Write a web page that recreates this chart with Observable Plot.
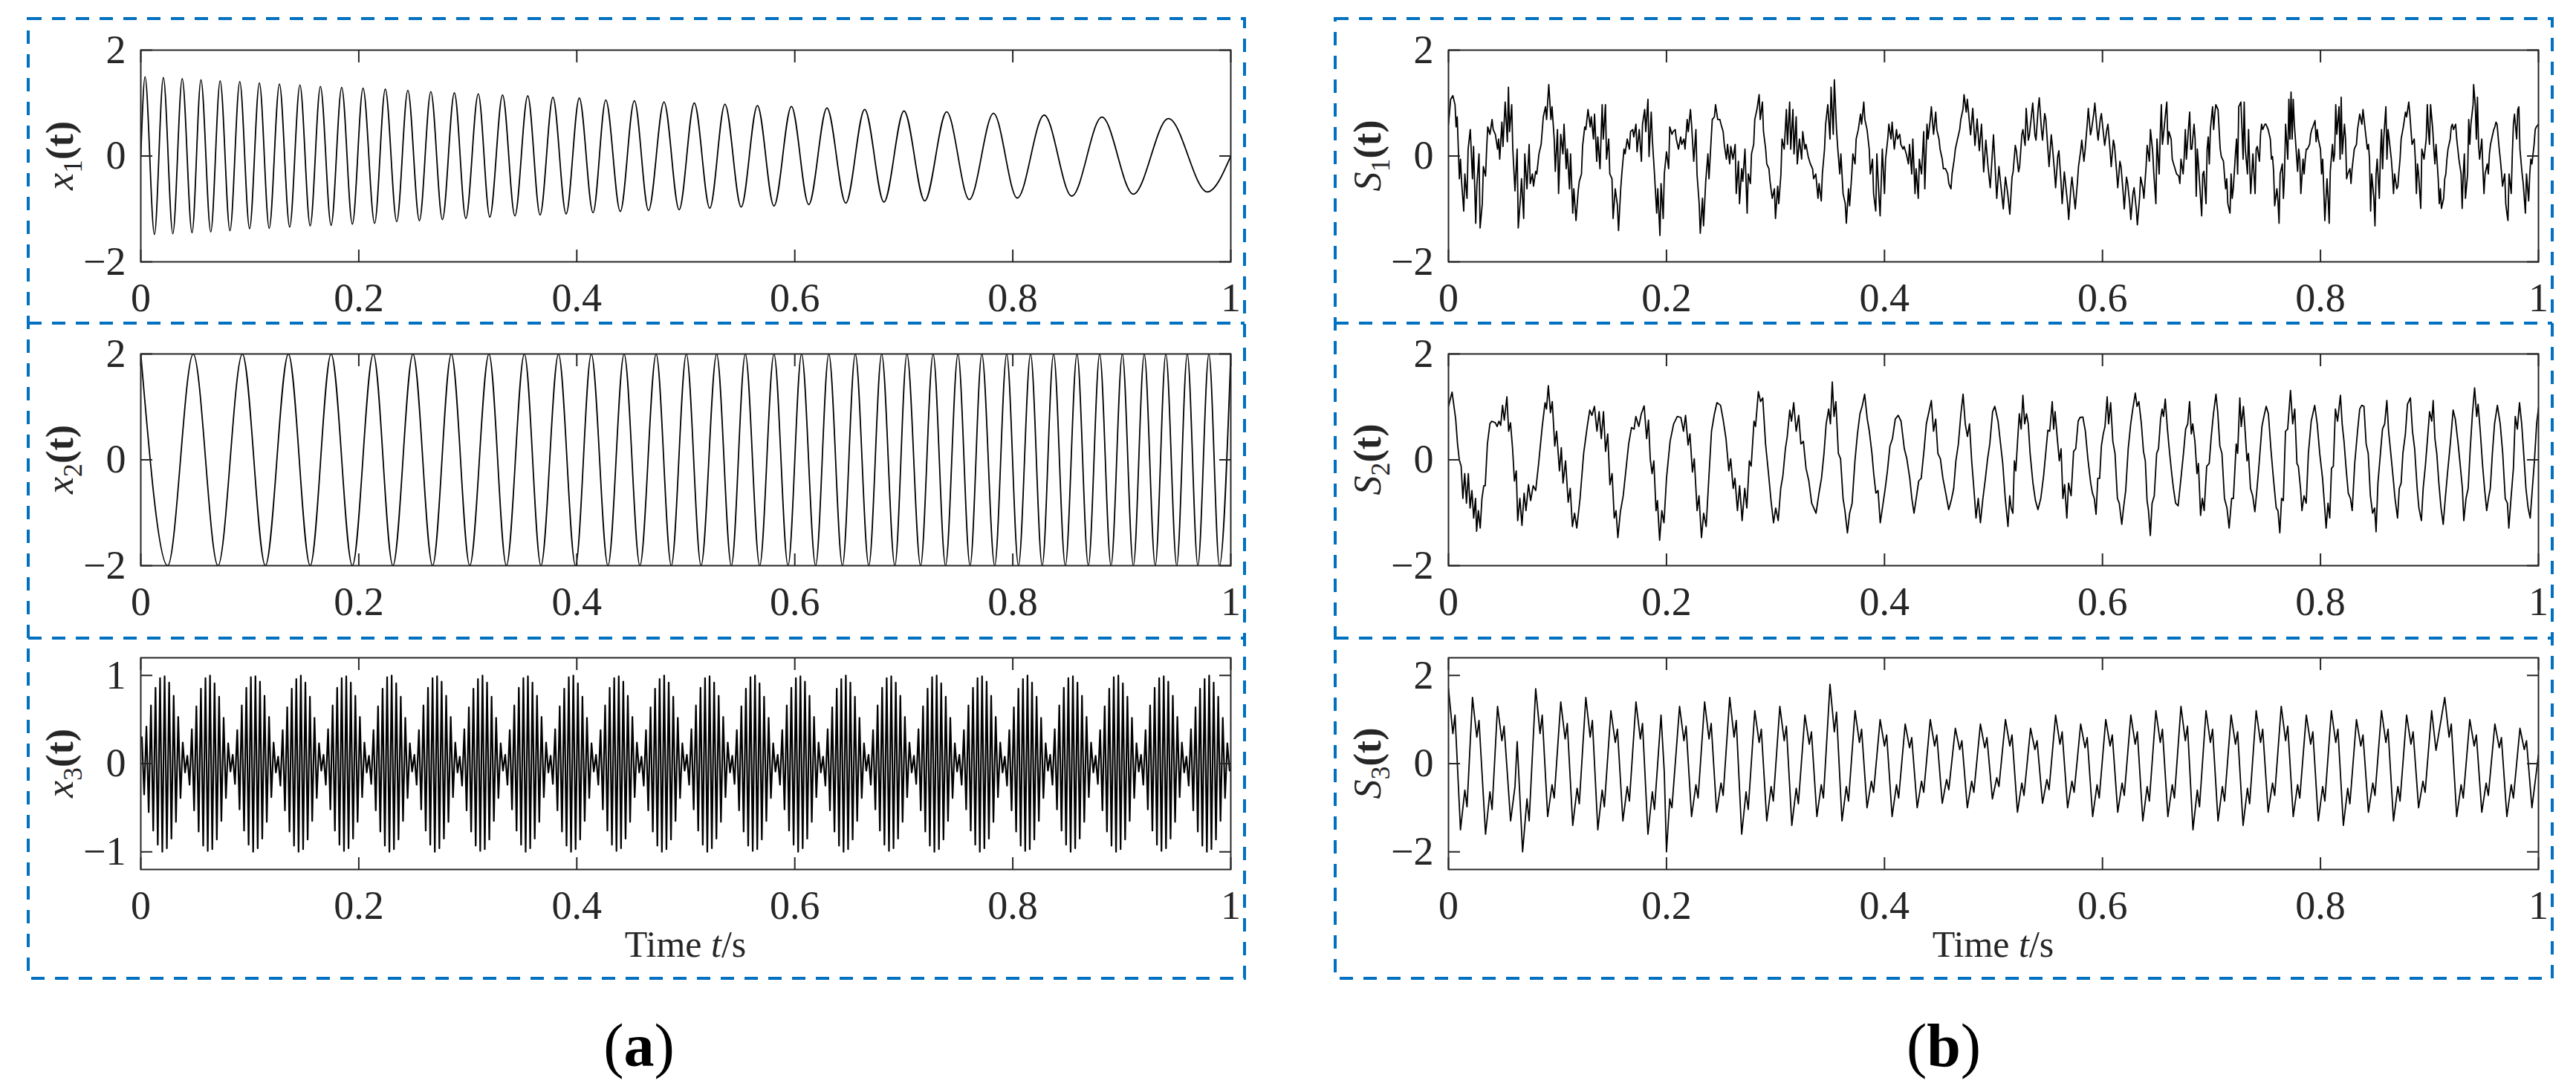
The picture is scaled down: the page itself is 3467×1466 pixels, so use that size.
<!DOCTYPE html>
<html><head><meta charset="utf-8">
<script src="https://cdn.jsdelivr.net/npm/d3@7"></script>
<script src="https://cdn.jsdelivr.net/npm/@observablehq/plot@0.6"></script>
<style>
html,body{margin:0;padding:0;background:#fff;}
#fig{position:relative;width:3467px;height:1466px;overflow:hidden;background:#fff;font-family:"Liberation Serif","Times New Roman",serif;}
#fig svg{position:absolute;}
</style></head>
<body><div id="fig"></div>
<script>
// ---------- tick labels ----------
const timeTicks = [0, 0.2, 0.4, 0.6, 0.8, 1];
const ticksTwo = [-2, 0, 2];
const ticksOne = [-1, 0, 1];

// ---------- x1(t): extrema of the decaying down-chirp ----------
const x1T = [0,0.0039,0.0125,0.0207,0.0294,0.0380,0.0470,0.0552,0.0642,0.0728,0.0818,0.0908,0.0998,0.1088,0.1178,0.1272,0.1366,0.1460,0.1554,0.1648,0.1746,0.1843,0.1941,0.2039,0.2145,0.2243,0.2348,0.2450,0.2556,0.2661,0.2767,0.2877,0.2982,0.3096,0.3202,0.3319,0.3432,0.3550,0.3663,0.3781,0.3902,0.4023,0.4149,0.4266,0.4399,0.4528,0.4658,0.4800,0.4939,0.5078,0.5220,0.5359,0.5508,0.5657,0.5809,0.5969,0.6128,0.6295,0.6468,0.6641,0.6818,0.7002,0.7192,0.7393,0.7601,0.7823,0.8041,0.8288,0.8541,0.8818,0.9106,0.9428,0.9785,1];
const x1V = [0,1.497,-1.483,1.483,-1.469,1.460,-1.450,1.441,-1.436,1.418,-1.413,1.404,-1.375,1.380,-1.366,1.361,-1.343,1.343,-1.319,1.315,-1.310,1.296,-1.287,1.282,-1.273,1.263,-1.240,1.240,-1.221,1.216,-1.202,1.193,-1.179,1.174,-1.155,1.151,-1.132,1.137,-1.113,1.109,-1.095,1.095,-1.071,1.057,-1.048,1.043,-1.029,1.020,-1.015,1.000,-0.987,0.978,-0.964,0.954,-0.945,0.936,-0.917,0.908,-0.889,0.880,-0.870,0.851,-0.847,0.833,-0.823,0.805,-0.795,0.772,-0.758,0.734,-0.720,0.706,-0.678,0];

// ---------- x2(t): extrema of the up-chirp ----------
const x2T = [0,0.0247,0.0481,0.0708,0.0932,0.1143,0.1354,0.1554,0.1746,0.1941,0.2133,0.2313,0.2497,0.2677,0.2849,0.3018,0.3194,0.3354,0.3519,0.3671,0.3832,0.3988,0.4133,0.4286,0.4434,0.4579,0.4728,0.4867,0.5005,0.5140,0.5283,0.5418,0.5546,0.5678,0.5809,0.5938,0.6062,0.6191,0.6312,0.6437,0.6555,0.6679,0.6797,0.6918,0.7029,0.7154,0.7269,0.7383,0.7497,0.7608,0.7716,0.7834,0.7944,0.8052,0.8163,0.8270,0.8374,0.8482,0.8589,0.8693,0.8797,0.8901,0.9005,0.9106,0.9206,0.9307,0.9404,0.9504,0.9601,0.9698,0.9799,0.9896,1];
const x2V = [2,-2,2,-2,2,-2,2,-2,2,-2,2,-2,2,-2,2,-2,2,-2,2,-2,2,-2,2,-2,2,-2,2,-2,2,-2,2,-2,2,-2,2,-2,2,-2,2,-2,2,-2,2,-2,2,-2,2,-2,2,-2,2,-2,2,-2,2,-2,2,-2,2,-2,2,-2,2,-2,2,-2,2,-2,2,-2,2,-2,2];

// ---------- x3(t): carrier extrema, one row per beat ----------
const x3Start = 0.001;
const x3Step = 0.0020833;
const x3Beats = [
 [0.30,-0.35,0.42,-0.55,0.66,-0.76,0.86,-0.92,0.97,-1.00,0.99,-0.96,0.92,-0.85,0.77,-0.66,0.53,-0.39,0.24,-0.10],
 [0.09,-0.24,0.39,-0.53,0.65,-0.77,0.85,-0.93,0.97,-0.99,1.00,-0.97,0.91,-0.86,0.76,-0.65,0.52,-0.39,0.23,-0.09],
 [0.10,-0.23,0.38,-0.52,0.66,-0.76,0.86,-0.92,0.98,-1.00,0.99,-0.96,0.93,-0.85,0.77,-0.66,0.53,-0.38,0.24,-0.10],
 [0.08,-0.25,0.38,-0.53,0.64,-0.77,0.85,-0.93,0.96,-1.00,1.00,-0.97,0.92,-0.86,0.76,-0.65,0.52,-0.39,0.23,-0.08],
 [0.10,-0.24,0.39,-0.52,0.66,-0.76,0.86,-0.92,0.97,-0.99,0.99,-0.96,0.92,-0.85,0.77,-0.66,0.53,-0.38,0.24,-0.10],
 [0.09,-0.23,0.38,-0.53,0.65,-0.77,0.85,-0.93,0.98,-1.00,1.00,-0.97,0.91,-0.86,0.76,-0.65,0.52,-0.39,0.23,-0.09],
 [0.10,-0.24,0.38,-0.52,0.66,-0.76,0.86,-0.92,0.97,-1.00,0.99,-0.96,0.93,-0.85,0.77,-0.66,0.53,-0.38,0.24,-0.10],
 [0.08,-0.25,0.39,-0.53,0.64,-0.77,0.85,-0.93,0.96,-0.99,1.00,-0.97,0.92,-0.86,0.76,-0.65,0.52,-0.39,0.23,-0.08],
 [0.10,-0.24,0.38,-0.52,0.66,-0.76,0.86,-0.92,0.97,-1.00,0.99,-0.96,0.92,-0.85,0.77,-0.66,0.53,-0.38,0.24,-0.10],
 [0.09,-0.23,0.39,-0.53,0.65,-0.77,0.85,-0.93,0.98,-1.00,1.00,-0.97,0.91,-0.86,0.76,-0.65,0.52,-0.39,0.23,-0.09],
 [0.10,-0.24,0.38,-0.52,0.66,-0.76,0.86,-0.92,0.97,-0.99,0.99,-0.96,0.93,-0.85,0.77,-0.66,0.53,-0.38,0.24,-0.10],
 [0.08,-0.25,0.38,-0.53,0.64,-0.77,0.85,-0.93,0.96,-1.00,1.00,-0.97,0.92,-0.86,0.76,-0.65,0.52,-0.39,0.23,-0.08],
 [0.10,-0.24,0.39,-0.52,0.66,-0.76,0.86,-0.92,0.97,-1.00,0.99,-0.96,0.92,-0.85,0.77,-0.66,0.53,-0.38,0.24,-0.10],
 [0.09,-0.23,0.38,-0.53,0.65,-0.77,0.85,-0.93,0.98,-0.99,1.00,-0.97,0.91,-0.86,0.76,-0.65,0.52,-0.39,0.23,-0.09],
 [0.10,-0.24,0.38,-0.52,0.66,-0.76,0.86,-0.92,0.97,-1.00,0.99,-0.96,0.93,-0.85,0.77,-0.66,0.53,-0.38,0.24,-0.10],
 [0.08,-0.25,0.39,-0.53,0.64,-0.77,0.85,-0.93,0.96,-1.00,1.00,-0.97,0.92,-0.86,0.76,-0.65,0.52,-0.39,0.23,-0.08],
 [0.10,-0.24,0.38,-0.52,0.66,-0.76,0.86,-0.92,0.97,-0.99,0.99,-0.96,0.92,-0.85,0.77,-0.66,0.53,-0.38,0.24,-0.10],
 [0.09,-0.23,0.39,-0.53,0.65,-0.77,0.85,-0.93,0.98,-1.00,1.00,-0.97,0.91,-0.86,0.76,-0.65,0.52,-0.39,0.23,-0.09],
 [0.10,-0.24,0.38,-0.52,0.66,-0.76,0.86,-0.92,0.97,-1.00,0.99,-0.96,0.93,-0.85,0.77,-0.66,0.53,-0.38,0.24,-0.10],
 [0.08,-0.25,0.38,-0.53,0.64,-0.77,0.85,-0.93,0.96,-0.99,1.00,-0.97,0.92,-0.86,0.76,-0.65,0.52,-0.39,0.23,-0.08],
 [0.10,-0.24,0.39,-0.52,0.66,-0.76,0.86,-0.92,0.97,-1.00,0.99,-0.96,0.92,-0.85,0.77,-0.66,0.53,-0.38,0.24,-0.10],
 [0.09,-0.23,0.38,-0.53,0.65,-0.77,0.85,-0.93,0.98,-1.00,1.00,-0.97,0.91,-0.86,0.76,-0.65,0.52,-0.39,0.23,-0.09],
 [0.10,-0.24,0.38,-0.52,0.66,-0.76,0.86,-0.92,0.97,-0.99,0.99,-0.96,0.93,-0.85,0.77,-0.66,0.53,-0.38,0.24,-0.10],
 [0.08,-0.25,0.39,-0.53,0.64,-0.77,0.85,-0.93,0.96,-1.00,1.00,-0.97,0.92,-0.86,0.76,-0.65,0.52,-0.39,0.23,-0.08]
];

// ---------- S1(t): [t, v] pairs ----------
const s1A = [0,.6,.002,1.07,.004,1.14,.006,.97,.007,.55,.008,.74,.010,-.43,.011,-.06,.012,-.48,.014,-1.04,.015,-.34,.017,-.8,.018,.13,.020,.5,.022,-.43,.023,.18,.025,-1.27,.026,-.57,.028,.04,.029,-1.36,.031,-.9,.032,-.2,.034,-.38,.035,.13,.036,.55,.038,.41,.040,.69,.041,.5,.043,.41,.045,.13,.046,.32,.047,-.06,.049,.64,.050,.18,.052,1.02,.054,.27,.055,1.3,.056,.46,.058,.97,.059,.13,.061,-.66,.063,.13,.064,-1.36,.066,-.8,.067,-.43,.069,-1.18,.070,.04,.072,-.62,.074,.22,.075,-.52,.077,-.34,.078,-.57,.080,-.29,.081,-.34,.083,.04,.085,.22,.087,.74,.089,.93,.090,.69,.092,1.35,.094,.69,.095,.93,.097,.32,.098,-.29,.100,.5,.101,-.71,.103,.41,.105,.04,.106,.6,.108,-.24,.109,.13,.111,-.62,.112,.04,.114,-1.08,.115,-.62,.117,-1.22,.119,-.66,.120,-.48,.122,-.34,.123,.18,.125,.55,.126,.5,.128,.88,.130,.55,.131,.74,.133,.32,.134,.79,.136,-.1,.137,.36,.139,-.24,.141,.97,.142,.32,.144,.97,.145,-.06,.147,.32,.148,-.34,.150,-.43,.151,-1.18,.153,-.62,.155,-.94,.156,-1.41,.158,-.62,.159,-.34,.161,.13,.162,.04,.164,.32,.166,.13,.167,.46,.169,.5,.170,.36,.172,.6,.173,.08,.175,.5,.177,-.1,.178,.6,.180,.88,.181,.46,.183,1.07,.184,-.01,.186,.83,.187,.32,.189,-.34,.191,-1.08,.192,-.62,.194,-1.5,.195,-.52,.197,-1.18,.198,-.34,.200,.08,.202,-.24,.203,.55,.205,.41,.206,.46,.208,.5,.209,.32,.211,.13,.213,.36,.214,.22,.216,.32,.217,.13,.219,.69,.220,.46,.222,.88,.223,.6,.225,-.1,.227,.5,.228,-.34,.230,-.9,.231,-1.46,.233,-.8,.234,-1.32,.236,-.48,.238,.04,.239,-.43,.241,.32,.242,.69,.244,.74,.245,.97,.247,.69,.249,.69,.250,.6,.252,.46,.253,.22,.255,-.06,.256,.22,.258,-.15,.259,.18,.261,-.06,.263,.22,.264,-.71,.266,-.1,.267,-.9,.269,-.24,.270,-.48,.272,.13,.274,-1.08,.275,-.34,.277,-.52,.278,.04,.280,.22,.281,.69,.283,.88,.285,1.16,.286,.69,.288,1.02,.289,.46,.291,.13,.292,-.15,.294,-.24,.295,-.48,.297,-.8,.299,-.62,.300,-1.18,.302,-.57,.303,-.9,.305,-.34,.306,.32,.308,.13,.310,.88,.311,.22,.313,1.02,.314,.13,.316,.88,.317,.04,.319,.74,.320,-.15,.322,.32,.324,-.06,.325,.46,.327,.13,.328,.22,.330,-.01,.332,-.15,.334,-.24,.335,-.43,.337,-.34,.339,-.8,.340,-.52,.342,-.85,.343,-.34,.345,.13,.346,.6,.348,.97,.350,.32,.351,1.3,.353,.41,.354,1.44,.356,.5,.357,.18,.359,-.34,.360,.04,.362,-.71,.364,-.9,.365,-1.27,.367,-.62,.368,-.94,.370,-.34,.371,.04,.373,-.15,.374,.32,.376,.5,.378,.79,.379,.6,.381,1.02,.382,.69,.384,.5,.386,.13,.387,-.34,.389,-.06,.390,-.71,.392,-1.04,.393,.04,.395,-.8,.396,-1.13,.398,.13,.400,-.71,.401,-.06,.403,.32,.404,.6,.406,.32,.407,.64,.409,.13,.411,.5,.412,.32,.414,.41,.415,.22,.417,.13,.418,.18,.420,.04,.422,-.15,.423,.22,.425,-.34,.426,.32,.428,-.71,.429,-.24,.431,-.8,.432,-.06,.434,-.34,.436,.46,.437,-.62,.439,.6,.440,.32,.442,.69,.443,.93,.445,.41,.447,.83,.448,.5,.450,.32,.451,.13,.453,-.06,.454,-.24,.456,-.24,.458,-.34,.459,-.52,.461,-.62,.462,-.34,.464,-.06,.465,.13,.467,.32,.469,.5,.470,.69,.472,.88,.473,1.16,.475,.83,.476,1.07];
const s1B = [.479,.4,.481,.9,.483,.2,.485,.7,.487,.1,.489,.6,.491,-.3,.493,.3,.495,-.2,.497,-.6,.500,.4,.502,-.4,.503,-.8,.505,-.2,.507,-.6,.509,-1.0,.511,-.4,.513,-.7,.515,-1.1,.517,-.4,.518,-.3,.520,.2,.521,.1,.523,-.3,.524,-.2,.526,.4,.527,.5,.529,.2,.530,.9,.532,.3,.533,.4,.535,.8,.536,1.0,.538,.4,.539,.3,.541,.9,.542,1.1,.544,.5,.545,.3,.547,.8,.548,.7,.550,.1,.551,-.2,.553,.4,.554,.2,.556,-.3,.557,-.6,.559,.0,.560,.1,.562,-.5,.563,-.9,.565,-.3,.566,-.5,.568,-.9,.569,-1.2,.571,-.6,.572,-.4,.574,-.8,.575,-1.0,.577,-.5,.578,-.2,.580,.1,.581,.3,.583,-.1,.584,.1,.586,.6,.587,.9,.589,.4,.590,.5,.592,.8,.593,1.0,.595,.5,.596,.3,.598,.7,.599,.8,.601,.4,.602,.2,.604,.5,.605,.6,.607,.1,.608,-.2,.610,.3,.611,.2,.613,-.3,.614,-.6,.616,-.1,.617,-.2,.619,-.7,.620,-1.0,.622,-.4,.623,-.5,.625,-.9,.626,-1.2,.628,-.7,.629,-.6,.631,-1.0,.632,-1.3,.634,-.8,.635,-.4,.637,-.6,.638,-.8,.640,-.2,.641,.2,.643,-.1,.644,.5,.646,.1,.647,-.3];
const s1C = [.649,-.9,.650,.32,.652,-.34,.653,.41,.654,.97,.655,.22,.656,.41,.658,.83,.659,1.02,.660,.22,.661,.46,.663,.32,.664,-.06,.666,-.2,.668,-.34,.670,-.38,.671,-.52,.672,-.06,.674,-.34,.675,-.01,.676,.5,.677,-.06,.679,.55,.680,.83,.681,.13,.682,.13,.684,.6,.685,.32,.686,-.76,.687,.13,.688,-.15,.690,-.8,.691,-1.13,.692,-.34,.693,-.29,.695,-.9,.696,.13,.697,.36,.698,-.15,.699,.5,.701,.93,.702,.5,.703,.79,.704,.97,.706,.88,.707,.5,.708,.13,.709,-.01,.711,-.1,.712,-.38,.713,-.62,.714,-.43,.715,-.9,.717,-1.08,.718,-.34,.719,-.8,.720,-.62,.722,.04,.723,.32,.724,-.34,.725,.93,.727,1.02,.728,.5,.729,-.06,.730,1.02,.731,.13,.733,-.34,.734,.5,.735,-.15,.736,-.71,.738,.04,.739,-.34,.740,-.71,.741,.13,.742,.18,.744,-.1,.745,.41,.746,.6,.747,.5,.749,.6,.750,.6,.751,.55,.752,.5,.754,.32,.755,-.06,.756,-.01,.757,-.29,.758,-.94,.760,-.62,.761,-.85,.762,-1.27,.763,-.34,.765,-.15,.766,-.8,.767,-.34,.768,.6,.770,-.06,.771,1.07,.772,.32,.773,1.21,.774,.32,.775,1.07,.776,.6,.777,.32,.779,-.29,.780,.13,.781,-.06,.782,-.71,.784,-.06,.785,-.34,.786,-.06,.787,.13,.788,.13,.790,.22,.791,.41,.792,.5,.793,.55,.795,.67,.796,.27,.797,.5,.798,.32,.800,.13,.801,-.34,.802,-.06,.803,-.62,.804,-1.22,.806,-.43,.807,-.8,.808,-1.27,.809,-.29,.811,.22,.812,-.1,.813,.04,.814,.97,.815,.41,.817,.93,.818,-.06,.819,1.11,.820,.04,.822,.6,.823,.32,.824,-.43,.825,-.34,.827,-.24,.828,-.52,.829,-.24,.830,-.06,.831,.13,.833,.22,.834,.5,.835,.64,.836,.79,.838,.6,.839,.88,.840,.69,.841,.5,.843,.13,.844,.22,.845,-.06,.846,-1.04,.847,-.34,.849,-.8,.850,-1.32,.851,-.34,.852,-.06,.854,-.8,.855,.04,.856,.5,.857,-.24,.858,.32,.860,.93,.861,-.06,.862,.5,.863,.32,.865,-.06,.866,-.34,.867,-.71,.868,-.34,.870,-.62,.871,-.57,.872,-.29,.873,-.06,.874,.32,.876,.55,.877,.69,.878,.83,.879,.74,.881,1.02,.882,.79,.883,.5,.884,.22,.886,.32,.887,-.06,.888,-.71,.889,-.15,.890,-.34,.892,-.99,.893,.13,.894,.04,.895,-.06,.897,.32,.898,.97,.899,.5,.900,.22,.901,.97,.903,.5,.904,.13,.905,-.15,.906,.22,.908,-.43,.909,-.9,.910,-.62,.911,-.99,.913,-.8,.914,-.43,.915,-.34,.916,-.06,.917,.13,.919,.32,.920,.55,.921,.6,.922,.5,.924,.6,.925,.32,.926,.13,.927,-.06,.929,-.34,.930,-.99,.931,-.34,.932,.04,.933,-.8,.935,-.34,.936,.69,.937,.22,.938,.6,.940,.97,.9405,1.35,.942,.97,.943,.32,.944,1.11,.945,.22,.946,-.06,.948,.32,.949,-.24,.950,-.71,.951,-.34,.953,-.15,.954,-.34,.955,.04,.956,.22,.958,.41,.959,.5,.960,.55,.961,.64,.962,.6,.964,.13,.965,-.06,.966,-.29,.967,-.57,.969,-.34,.970,-.9,.971,-1.08,.972,-1.22,.973,-.34,.975,-.71,.976,.04,.977,.6,.978,.79,.980,.32,.981,.88,.982,.93,.983,.13,.985,-.34,.986,-.52,.987,-.8,.988,-1.08,.989,-.34,.991,-.85,.992,-.34,.993,-.06,.994,-.15,.996,.22,.997,.5,.998,.55,1,.6];

// ---------- S2(t): [t, v] pairs ----------
const s2 = [0,1.01,.0033,1.28,.0066,.77,.0083,.3,.0099,0,.0116,-.12,.0132,-.73,.0149,-.26,.0165,-.82,.0182,-.26,.0198,-.91,.0215,-.58,.0231,-1.1,.0248,-.73,.0258,-1.35,.0274,-.96,.0291,-1.29,.0307,-.73,.0324,-.49,.0337,-.49,.0357,.3,.038,.68,.0397,.73,.043,.7,.0446,.63,.0463,.73,.0479,.65,.0496,1.03,.0512,.75,.0536,1.19,.0552,.54,.0569,.7,.0588,.21,.0605,-.4,.0622,-.21,.0635,-1.15,.0655,-.73,.0674,-1.24,.0694,-.63,.0711,-.96,.0734,-.47,.0754,-.77,.0777,-.49,.08,-.58,.0827,-.07,.086,.63,.0886,1.08,.0899,.96,.0916,1.4,.0936,.89,.0952,1.1,.0975,.26,.0992,.54,.1018,-.21,.1035,.23,.1051,-.44,.1074,-.02,.1098,-.8,.1117,-.54,.1137,-1.26,.1157,-1.01,.1177,-1.29,.1207,-.73,.124,.12,.1273,.63,.1296,.94,.1316,.84,.1339,1.01,.1362,.54,.1382,.91,.1402,.4,.1422,.91,.1441,.16,.1461,.49,.1481,-.47,.1501,-.26,.1521,-1.1,.1537,-.96,.1554,-1.47,.1577,-.98,.1603,-.68,.1627,-.21,.1653,.3,.1679,.61,.1703,.58,.1719,.82,.1746,.63,.1769,.87,.1795,1.02,.1818,.4,.1835,.75,.1851,.02,.1868,-.26,.1884,-.02,.1904,-.96,.1917,-.77,.1937,-1.52,.1957,-.96,.1977,-1.19,.2,-.35,.2033,.35,.2066,.68,.2099,.82,.2132,.8,.2156,.54,.2175,.84,.2198,.28,.2215,.49,.2238,-.23,.2255,.02,.2281,-.96,.2298,-.68,.2321,-1.47,.2341,-1.01,.2364,-1.26,.2387,-.4,.2413,.54,.244,.87,.2463,1.08,.2496,1.03,.2519,.77,.2546,.4,.2572,-.21,.2589,.02,.2612,-.54,.2628,-.35,.2651,-.96,.2671,-.49,.2694,-1.15,.2718,-.54,.2737,-.91,.276,-.02,.2777,-.12,.2803,.73,.2817,.63,.2843,1.29,.2863,1.1,.2883,1.17,.2909,.3,.2936,-.26,.2959,-.77,.2982,-1.19,.3002,-.91,.3025,-1.15,.3048,-.54,.3068,-.3,.3091,.21,.3108,.44,.3131,.94,.3147,.73,.3167,1.08,.319,.54,.3213,.84,.3233,.3,.3256,.35,.328,-.16,.3306,-.4,.3332,-.82,.3372,-1.01,.3399,-.63,.3422,-.35,.3445,.12,.3465,.68,.3488,.96,.3504,.68,.3521,1.47,.3537,.82,.3554,1.1,.3577,.12,.3597,.02,.362,-.73,.3637,-.96,.366,-1.38,.368,-1.01,.3703,-.82,.3729,-.02,.3752,.49,.3775,.87,.3795,1.01,.3818,1.24,.3842,.77,.3861,.54,.3885,.12,.3901,-.26,.3921,-.63,.3941,-.58,.3961,-1.19,.3984,-.87,.4007,-.54,.4027,-.21,.405,.26,.4073,.4,.4099,.77,.4126,.84,.4152,.73,.4182,.21,.4205,.02,.4232,-.35,.4251,-.73,.4271,-1.01,.4291,-.73,.4314,-.4,.4337,-.35,.4364,.21,.4384,.68,.4404,.87,.443,1.12,.445,.54,.447,.77,.449,.12,.4513,.02,.4536,-.35,.4562,-.63,.4589,-.94,.4612,-.77,.4635,-.54,.4655,-.02,.4678,.3,.4701,.87,.4721,1.24,.4741,.68,.4761,.44,.478,.68,.48,-.02,.482,-.54,.484,-1.1,.486,-.73,.488,-1.19,.4903,-.73,.4926,-.35,.4946,.02,.4966,.3,.4992,.91,.5012,1.01,.5042,.73,.5065,.3,.5085,-.07,.5108,-.73,.5133,-1.26,.5149,-.68,.5162,-.91,.5178,-1.01,.5192,-.02,.5205,-.21,.5221,.35,.5237,.87,.5254,.58,.527,1.22,.5286,.68,.5303,.87,.5319,.68,.5336,.12,.5362,-.44,.5385,-.77,.5408,-.94,.5434,-.73,.546,-.3,.5483,.21,.5499,.56,.5516,.54,.5539,1.1,.5552,.58,.5565,.91,.5584,.44,.5604,-.02,.562,.21,.5637,-.73,.5653,-.47,.5673,-1.1,.5689,-.44,.5712,-.68,.5735,.16,.5755,.21,.5777,.73,.5794,.8,.582,.81,.5843,.54,.5866,.02,.5892,-.44,.5908,-.63,.5925,-.73,.5941,-1.03,.5957,-.35,.5974,-.35,.599,.26,.6007,.49,.6023,.63,.6043,1.19,.6056,.68,.6075,1.08,.6095,.35,.6115,.12,.6137,-.73,.6154,-.82,.6177,-1.22,.6193,-.91,.6213,-.58,.6236,.21,.6259,.68,.6278,.96,.6301,1.26,.6317,1.01,.6334,1.1,.6357,.68,.6376,.16,.6393,-.02,.6409,-.77,.6422,-.96,.6439,-1.43,.6455,-.82,.6475,-.68,.6497,.12,.6514,.21,.6533,.77,.6547,.96,.656,.82,.6576,1.15,.6596,.58,.6612,.21,.6635,-.26,.6651,-.54,.6671,-.82,.6694,-.87,.672,-.35,.6743,.12,.6763,.58,.6782,.68,.6799,1.1,.6815,.49,.6828,.68,.6848,.35,.6867,-.26,.688,-.07,.69,-1.05,.6916,-.73,.6933,-.96,.6956,-.12,.6979,-.07,.6998,.44,.7018,.87,.7041,1.24,.7057,.91,.7077,.26,.7096,.12,.7119,-.73,.7142,-.91,.7162,-1.29,.7185,-.73,.7201,-.73,.7227,.3,.724,.12,.726,1.17,.7273,.63,.7293,1.01,.7306,.63,.7326,-.02,.7339,.12,.7358,-.54,.7378,-.68,.7398,-.98,.7414,-.63,.7437,-.07,.7463,.63,.7479,.8,.7502,1.01,.7522,.87,.7545,.21,.7568,-.35,.7594,-.91,.761,-.96,.7627,-1.38,.7643,-.73,.7659,-.77,.7679,.54,.7699,.58,.7725,1.31,.7745,.68,.7764,.96,.7784,-.07,.7797,-.12,.7817,-.54,.783,-.96,.7849,-.68,.7869,-.82,.7889,.12,.7915,.73,.7947,1.03,.797,.68,.7993,.12,.8019,-.35,.8039,-.91,.8052,-1.29,.8069,-.82,.8085,-1.1,.8101,-.16,.8118,-.12,.8137,.96,.8157,.73,.8183,1.22,.8199,.68,.8216,.35,.8235,-.16,.8255,-.63,.8275,-.73,.8291,-.96,.8314,-.07,.834,.54,.836,.96,.8379,1.03,.8399,1.01,.8419,.3,.8438,.12,.8458,-.68,.8478,-1.01,.8497,-.91,.851,-1.36,.8527,-.44,.855,.12,.8569,.58,.8589,.68,.8609,1.12,.8625,.54,.8641,.21,.8667,-.35,.8684,-.73,.8707,-1.1,.8723,-.54,.874,-.44,.8756,.12,.8779,.49,.8798,1.05,.8825,1.17,.8844,.54,.8864,.21,.8887,-.54,.8903,-.91,.8926,-1.15,.8942,-.54,.8962,-.12,.8982,.4,.9001,.91,.9021,.73,.9034,1.12,.905,.4,.9067,.12,.9086,-.44,.9106,-.91,.9126,-1.22,.9145,-.73,.9165,-.26,.9191,.3,.9217,.94,.9237,.77,.9263,.3,.9283,-.12,.9302,-.54,.9315,-1.15,.9335,-.73,.9355,-.54,.9374,.21,.9394,.87,.9414,1.36,.9433,.82,.9446,1.05,.9466,.54,.9486,-.07,.9505,-.54,.9525,-.96,.9541,-.73,.9558,-.54,.9577,.12,.9597,.68,.9623,1.03,.9649,.68,.9672,.12,.9695,-.73,.9715,-.82,.9728,-1.29,.9748,-.73,.977,-.16,.9787,.82,.9806,.58,.9826,1.08,.9846,.68,.9869,-.02,.9885,-.54,.9905,-.91,.9924,-1.1,.9944,-.54,.9964,.02,.9983,.68,1,.98];

// ---------- S3(t): [t, v] pairs ----------
const s3 = [0,1.7,.004,.68,.006,1.1,.011,-1.5,.015,-.6,.017,-.98,
.022,1.5,.026,.6,.028,.98,.034,-1.6,.038,-.64,.040,-1.04,
.045,1.3,.049,.52,.051,.85,.057,-1.3,.061,-.52,.063,.5,.068,-2.0,.072,-.8,.074,-1.3,
.080,1.7,.084,.68,.086,1.1,.091,-1.2,.095,-.48,.097,-.78,
.103,1.4,.107,.56,.109,.91,.114,-1.4,.118,-.56,.120,-.91,
.126,1.5,.130,.6,.132,.98,.137,-1.5,.141,-.6,.143,-.98,
.149,1.2,.153,.48,.155,.78,.160,-1.3,.164,-.52,.166,-.85,
.172,1.4,.176,.56,.178,.91,.183,-1.6,.187,-.64,.189,-1.04,
.195,1.1,.198,-.2,.200,-2.0,.203,-.8,.205,-1.0,
.212,1.3,.216,.52,.218,.85,.223,-1.2,.227,-.48,.229,-.78,
.235,1.4,.239,.56,.241,.91,.246,-1.1,.250,-.44,.252,-.72,
.258,1.5,.262,.6,.264,.98,.269,-1.6,.273,-.64,.275,-1.04,
.281,1.2,.285,.48,.287,.78,.292,-1.3,.296,-.52,.298,-.85,
.304,1.3,.308,.52,.310,.85,.315,-1.4,.319,-.56,.321,-.91,
.327,1.1,.331,.44,.333,.72,.338,-1.2,.342,-.48,.344,-.78,
.350,1.8,.354,.72,.356,1.17,.361,-1.3,.365,-.52,.367,-.85,
.373,1.2,.377,.48,.379,.78,.384,-1.0,.388,-.4,.390,-.65,
.396,1.0,.400,.4,.402,.65,.407,-1.2,.411,-.48,.413,-.78,
.419,.9,.423,.36,.425,.59,.430,-1.0,.434,-.4,.436,-.65,
.442,1.0,.446,.4,.448,.65,.453,-.9,.457,-.36,.459,-.59,
.465,.8,.469,.32,.471,.52,.476,-1.0,.480,-.4,.482,-.65,
.488,.9,.492,.36,.494,.59,.499,-.8,.503,-.32,.505,-.52,
.511,1.0,.515,.4,.517,.65,.522,-1.1,.526,-.44,.528,-.72,
.534,.8,.538,.32,.540,.52,.545,-.9,.549,-.36,.551,-.59,
.557,1.1,.561,.44,.563,.72,.568,-1.0,.572,-.4,.574,-.65,
.580,.9,.584,.36,.586,.59,.591,-1.2,.595,-.48,.597,-.78,
.603,1.0,.607,.4,.609,.65,.614,-1.1,.618,-.44,.620,-.72,
.626,1.1,.630,.44,.632,.72,.637,-1.3,.641,-.52,.643,-.85,
.649,1.2,.653,.48,.655,.78,.660,-1.2,.664,-.48,.666,-.78,
.672,1.3,.676,.52,.678,.85,.683,-1.5,.687,-.6,.689,-.98,
.695,1.2,.699,.48,.701,.78,.706,-1.3,.710,-.52,.712,-.85,
.718,1.1,.722,.44,.724,.72,.729,-1.4,.733,-.56,.735,-.91,
.741,1.2,.745,.48,.747,.78,.752,-1.1,.756,-.44,.758,-.72,
.764,1.3,.768,.52,.770,.85,.775,-1.2,.779,-.48,.781,-.78,
.787,1.1,.791,.44,.793,.72,.798,-1.3,.802,-.52,.804,-.85,
.810,1.2,.814,.48,.816,.78,.821,-1.4,.825,-.56,.827,-.91,
.833,1.0,.837,.4,.839,.65,.844,-1.1,.848,-.44,.850,-.72,
.856,1.2,.860,.48,.862,.78,.867,-1.3,.871,-.52,.873,-.85,
.879,1.1,.883,.44,.885,.72,.890,-1.0,.894,-.4,.896,-.65,
.902,1.2,.906,.3,.908,.6,.914,1.5,.918,.6,.920,.9,.925,-1.2,.929,-.48,.931,-.78,
.937,1.0,.941,.4,.943,.65,.948,-1.1,.952,-.44,.954,-.72,
.960,.9,.964,.36,.966,.59,.971,-1.2,.975,-.48,.977,-.78,
.983,.8,.987,.32,.989,.52,.994,-1.0,.997,-.4,1,.2];

// ---------- build tables ----------
function pairs(flat) { const out = []; for (let i = 0; i < flat.length; i += 2) out.push({t: flat[i], v: flat[i + 1]}); return out; }
const x1Data = x1T.map((t, i) => ({t, v: x1V[i]}));
const x2Data = x2T.map((t, i) => ({t, v: x2V[i]}));
const x3Data = x3Beats.flat().map((v, i) => ({t: x3Start + i * x3Step, v}));
const s1Data = pairs(s1A.concat(s1B, s1C));
const s2Data = pairs(s2);
const s3Data = pairs(s3);

// ---------- layout ----------
const FW = 1467, FH = 285;
const ML = 180, MR = 40, MT = 30, MB = 150;
const INK = "#262626";
const fig = document.getElementById("fig");
const NS = "http://www.w3.org/2000/svg";
const fmt = d => (d < 0 ? "\u2212" : "") + Math.abs(d);

function panel(o) {
  const svg = Plot.plot({
    width: ML + FW + MR, height: MT + FH + MB,
    marginLeft: ML, marginRight: MR, marginTop: MT, marginBottom: MB,
    x: {type: "linear", domain: [0, 1]},
    y: {type: "linear", domain: o.yDomain},
    style: {background: "transparent", color: INK, fontFamily: "'Liberation Serif','Times New Roman',serif", overflow: "visible"},
    marks: [
      Plot.line(o.data, {x: "t", y: "v", stroke: "#000", strokeWidth: o.sw || 1.8, curve: o.curve || "linear", clip: true}),
      Plot.axisX(timeTicks, {anchor: "bottom", tickSize: -16, tickPadding: 44, tickFormat: fmt, fontSize: 54, strokeWidth: 2, label: null}),
      Plot.axisX(timeTicks, {anchor: "top", tickSize: -16, tickFormat: () => "", strokeWidth: 2, label: null}),
      Plot.axisY(o.yTicks, {anchor: "left", tickSize: -16, tickPadding: 36, tickFormat: fmt, fontSize: 54, strokeWidth: 2, label: null}),
      Plot.axisY(o.yTicks, {anchor: "right", tickSize: -16, tickFormat: () => "", strokeWidth: 2, label: null}),
      Plot.frame({stroke: INK, strokeWidth: 2})
    ]
  });
  svg.style.left = (o.fx - ML) + "px";
  svg.style.top = (o.fy - MT) + "px";
  const yl = document.createElementNS(NS, "text");
  yl.setAttribute("transform", `translate(${ML - 91},${MT + FH / 2}) rotate(-90)`);
  yl.setAttribute("text-anchor", "middle");
  yl.setAttribute("font-size", "52");
  yl.setAttribute("fill", INK);
  yl.setAttribute("font-family", "'Liberation Serif','Times New Roman',serif");
  yl.innerHTML = `<tspan font-style="italic">${o.sym}</tspan><tspan font-size="36" dy="12">${o.sub}</tspan><tspan dy="-12" font-weight="bold">(t)</tspan>`;
  svg.appendChild(yl);
  if (o.xlabel) {
    const xl = document.createElementNS(NS, "text");
    xl.setAttribute("x", ML + FW / 2);
    xl.setAttribute("y", MT + FH + 118);
    xl.setAttribute("text-anchor", "middle");
    xl.setAttribute("font-size", "50");
    xl.setAttribute("fill", INK);
    xl.setAttribute("font-family", "'Liberation Serif','Times New Roman',serif");
    xl.innerHTML = `Time <tspan font-style="italic">t</tspan>/s`;
    svg.appendChild(xl);
  }
  fig.appendChild(svg);
}

// dashed boxes and panel letters (decoration)
const deco = document.createElementNS(NS, "svg");
deco.setAttribute("width", 3467); deco.setAttribute("height", 1466);
deco.style.left = "0px"; deco.style.top = "0px";
function dashed(tag, attrs) {
  const el = document.createElementNS(NS, tag);
  for (const k in attrs) el.setAttribute(k, attrs[k]);
  el.setAttribute("fill", "none"); el.setAttribute("stroke", "#0070C0");
  el.setAttribute("stroke-width", 4); el.setAttribute("stroke-dasharray", "18 14");
  deco.appendChild(el);
}
for (const [x, w] of [[38, 1637], [1797, 1638]]) {
  dashed("rect", {x, y: 25, width: w, height: 1292});
  dashed("line", {x1: x, x2: x + w, y1: 435, y2: 435});
  dashed("line", {x1: x, x2: x + w, y1: 859, y2: 859});
}
for (const [x, letter] of [[860, "a"], [2616, "b"]]) {
  const t = document.createElementNS(NS, "text");
  t.setAttribute("x", x); t.setAttribute("y", 1435);
  t.setAttribute("text-anchor", "middle"); t.setAttribute("font-size", "82");
  t.setAttribute("font-family", "'Liberation Serif','Times New Roman',serif");
  t.setAttribute("fill", "#000");
  t.innerHTML = `(<tspan font-weight="bold">${letter}</tspan>)`;
  deco.appendChild(t);
}
fig.appendChild(deco);

const LX = 189.4, RX = 1949.2, ROWS = [66.7, 476, 884.5];
panel({fx: LX, fy: ROWS[0], data: x1Data, curve: "monotone-x", yDomain: [-2, 2], yTicks: ticksTwo, sym: "x", sub: "1"});
panel({fx: LX, fy: ROWS[1], data: x2Data, curve: "monotone-x", yDomain: [-2, 2], yTicks: ticksTwo, sym: "x", sub: "2"});
panel({fx: LX, fy: ROWS[2], data: x3Data, sw: 2.2, yDomain: [-1.2, 1.2], yTicks: ticksOne, sym: "x", sub: "3", xlabel: true});
panel({fx: RX, fy: ROWS[0], data: s1Data, yDomain: [-2, 2], yTicks: ticksTwo, sym: "S", sub: "1"});
panel({fx: RX, fy: ROWS[1], data: s2Data, yDomain: [-2, 2], yTicks: ticksTwo, sym: "S", sub: "2"});
panel({fx: RX, fy: ROWS[2], data: s3Data, yDomain: [-2.4, 2.4], yTicks: ticksTwo, sym: "S", sub: "3", xlabel: true});
</script>
</body></html>
